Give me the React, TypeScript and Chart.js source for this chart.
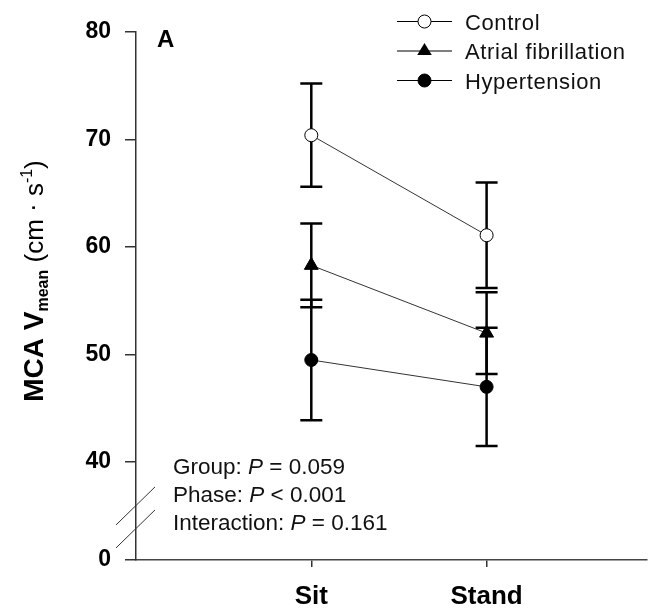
import React, { useEffect, useRef } from 'react';
import { Chart, registerables } from 'chart.js';

Chart.register(...registerables);

const FONT = "'Liberation Sans', Arial, sans-serif";

const categories = ['Sit', 'Stand'];
const seriesNames = ['Control', 'Atrial fibrillation', 'Hypertension'];
const controlMean = [70.4, 61.1];
const controlErr = [4.8, 4.9];
const afMean = [58.3, 52.0];
const afErr = [3.9, 3.8];
const htMean = [49.5, 47.0];
const htErr = [5.6, 5.5];
const yTicks = [40, 50, 60, 70, 80];
const yBreakLabel = '0';
const yMin = 30.9; // position of the broken-axis "0"
const yMax = 80;
const xMax = 2.915;
const statLines = [
  ['Group: ', 'P', ' = 0.059'],
  ['Phase: ', 'P', ' < 0.001'],
  ['Interaction: ', 'P', ' = 0.161'],
];
const panelLabel = 'A';

type Marker = 'open' | 'triangle' | 'filled';
const markers: Marker[] = ['open', 'triangle', 'filled'];

function drawMarker(ctx: CanvasRenderingContext2D, kind: Marker, x: number, y: number) {
  ctx.save();
  ctx.strokeStyle = '#000';
  ctx.lineWidth = 1;
  if (kind === 'triangle') {
    const r = 8;
    ctx.beginPath();
    ctx.moveTo(x, y - r);
    ctx.lineTo(x + r * 0.866 * 1.05, y + r * 0.5);
    ctx.lineTo(x - r * 0.866 * 1.05, y + r * 0.5);
    ctx.closePath();
    ctx.fillStyle = '#000';
    ctx.fill();
  } else {
    ctx.beginPath();
    ctx.arc(x, y, 6.5, 0, Math.PI * 2);
    ctx.fillStyle = kind === 'open' ? '#fff' : '#000';
    ctx.fill();
    ctx.stroke();
  }
  ctx.restore();
}

const errorBarPlugin = {
  id: 'errorBars',
  beforeDatasetsDraw(chart: any) {
    const { ctx, scales } = chart;
    const xs = scales.x;
    const ys = scales.y;
    ctx.save();
    ctx.strokeStyle = '#000';
    ctx.lineWidth = 2.5;
    chart.data.datasets.forEach((ds: any) => {
      ds.data.forEach((p: any, i: number) => {
        const x = xs.getPixelForValue(p.x);
        const yt = ys.getPixelForValue(p.y + ds.err[i]);
        const yb = ys.getPixelForValue(p.y - ds.err[i]);
        ctx.beginPath();
        ctx.moveTo(x, yt);
        ctx.lineTo(x, yb);
        ctx.moveTo(x - 11, yt);
        ctx.lineTo(x + 11, yt);
        ctx.moveTo(x - 11, yb);
        ctx.lineTo(x + 11, yb);
        ctx.stroke();
      });
    });
    ctx.restore();
  },
};

const overlayPlugin = {
  id: 'overlay',
  afterDraw(chart: any) {
    const { ctx, chartArea, scales } = chart;
    const ys = scales.y;
    ctx.save();

    // axis break slashes
    const y40 = ys.getPixelForValue(yTicks[0]);
    const y0 = ys.getPixelForValue(yMin);
    const yc = y40 + (y0 - y40) * 0.56;
    const ax = chartArea.left;
    ctx.strokeStyle = '#333';
    ctx.lineWidth = 1;
    [-11.5, 11.5].forEach((off) => {
      ctx.beginPath();
      ctx.moveTo(ax - 20, yc + off + 19.5);
      ctx.lineTo(ax + 19, yc + off - 18.5);
      ctx.stroke();
    });

    // panel label
    ctx.fillStyle = '#000';
    ctx.font = `bold 24px ${FONT}`;
    ctx.textBaseline = 'alphabetic';
    ctx.textAlign = 'left';
    ctx.fillText(panelLabel, 157, 47);

    // legend
    const legendY = [21.5, 51, 80.5];
    seriesNames.forEach((name, i) => {
      const y = legendY[i];
      ctx.strokeStyle = '#000';
      ctx.lineWidth = 1;
      ctx.beginPath();
      ctx.moveTo(397, y);
      ctx.lineTo(452, y);
      ctx.stroke();
      drawMarker(ctx, markers[i], 424.5, y);
      ctx.fillStyle = '#111';
      ctx.font = `22px ${FONT}`;
      (ctx as any).letterSpacing = '0.6px';
      ctx.fillText(name, 465, y + 8);
      (ctx as any).letterSpacing = '0px';
    });

    // statistics text
    const statY = [474, 502, 530];
    statLines.forEach((parts, i) => {
      let x = 173;
      parts.forEach((t, j) => {
        ctx.font = j === 1 ? `italic 22.5px ${FONT}` : `22.5px ${FONT}`;
        ctx.fillStyle = '#111';
        ctx.fillText(t, x, statY[i]);
        x += ctx.measureText(t).width;
      });
    });

    // y-axis title (rotated)
    const segs = [
      { t: 'MCA V', f: `bold 28px ${FONT}`, dy: 0 },
      { t: 'mean', f: `bold 16px ${FONT}`, dy: 5 },
      { t: ' (cm ', f: `26px ${FONT}`, dy: 0 },
      { t: '\u00B7', f: `26px ${FONT}`, dy: -2 },
      { t: ' s', f: `26px ${FONT}`, dy: 0 },
      { t: '-1', f: `16px ${FONT}`, dy: -11 },
      { t: ')', f: `26px ${FONT}`, dy: 0 },
    ];
    let total = 0;
    segs.forEach((s) => {
      ctx.font = s.f;
      total += ctx.measureText(s.t).width;
    });
    ctx.translate(43, 281);
    ctx.rotate(-Math.PI / 2);
    let tx = -total / 2;
    ctx.fillStyle = '#000';
    segs.forEach((s) => {
      ctx.font = s.f;
      ctx.fillText(s.t, tx, s.dy);
      tx += ctx.measureText(s.t).width;
    });
    ctx.restore();
  },
};

function makeDataset(label: string, means: number[], errs: number[], kind: Marker) {
  return {
    label,
    data: categories.map((_, i) => ({ x: i + 1, y: means[i] })),
    err: errs,
    borderColor: '#333',
    borderWidth: 1,
    fill: false,
    tension: 0,
    pointStyle: kind === 'triangle' ? 'triangle' : 'circle',
    pointRadius: kind === 'triangle' ? 8 : 6.5,
    pointBackgroundColor: kind === 'open' ? '#fff' : '#000',
    pointBorderColor: '#000',
    pointBorderWidth: 1,
    clip: false,
  };
}

export default function App() {
  const ref = useRef<HTMLCanvasElement>(null);
  useEffect(() => {
    document.body.style.margin = '0';
    const axisGrid = (len: number) => ({
      drawOnChartArea: false,
      drawTicks: true,
      tickLength: len,
      color: '#333',
      lineWidth: 1.5,
    });
    const chart = new Chart(ref.current!, {
      type: 'line',
      data: {
        datasets: [
          makeDataset(seriesNames[0], controlMean, controlErr, 'open'),
          makeDataset(seriesNames[1], afMean, afErr, 'triangle'),
          makeDataset(seriesNames[2], htMean, htErr, 'filled'),
        ] as any,
      },
      options: {
        animation: false,
        responsive: false,
        devicePixelRatio: 1,
        layout: { padding: { top: 32, left: 0, right: 0, bottom: 0 } },
        plugins: { legend: { display: false }, tooltip: { enabled: false } },
        scales: {
          x: {
            type: 'linear',
            min: 0,
            max: xMax,
            afterBuildTicks: (s: any) => {
              s.ticks = categories.map((_, i) => ({ value: i + 1 }));
            },
            afterFit: (s: any) => {
              s.height = 48;
            },
            ticks: {
              autoSkip: false,
              maxRotation: 0,
              callback: (_v: any, i: number) => categories[i] ?? '',
              font: { family: FONT, size: 26, weight: 'bold' },
              color: '#000',
              padding: 14,
            },
            grid: axisGrid(7),
            border: { display: true, color: '#444', width: 1.5 },
          },
          y: {
            type: 'linear',
            min: yMin,
            max: yMax,
            afterBuildTicks: (s: any) => {
              s.ticks = [{ value: yMin }, ...yTicks.map((v) => ({ value: v }))];
            },
            afterFit: (s: any) => {
              s.width = 136;
            },
            ticks: {
              autoSkip: false,
              callback: (v: any) => (v === yMin ? yBreakLabel : String(v)),
              font: { family: FONT, size: 23, weight: 'bold' },
              color: '#000',
              padding: 14,
            },
            grid: axisGrid(11),
            border: { display: true, color: '#333', width: 1.5 },
          },
        },
      } as any,
      plugins: [errorBarPlugin, overlayPlugin],
    });
    return () => chart.destroy();
  }, []);
  return (
    <div style={{ width: 656, height: 608 }}>
      <canvas ref={ref} width={656} height={608} style={{ display: 'block' }} />
    </div>
  );
}
